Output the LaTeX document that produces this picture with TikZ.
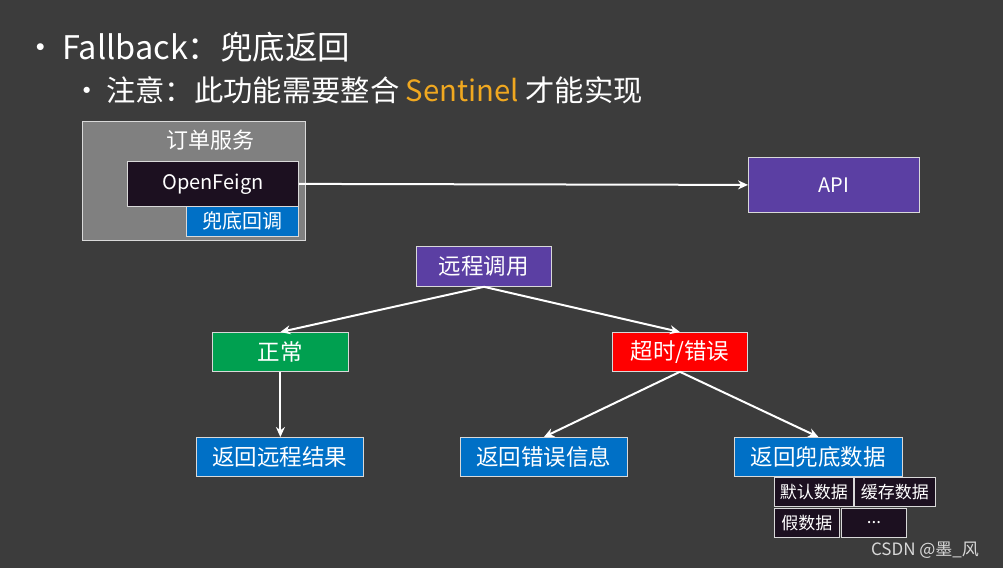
\documentclass[tikz,border=0pt]{standalone}
\usepackage{fontspec}
\setmainfont{Noto Sans CJK SC}
\usetikzlibrary{arrows.meta}
\definecolor{bg}{HTML}{3C3C3C}
\definecolor{pur}{HTML}{5B3FA3}
\definecolor{blu}{HTML}{0070C6}
\definecolor{grn}{HTML}{00A050}
\definecolor{dk}{HTML}{1C1020}
\definecolor{org}{HTML}{F0A820}
\tikzset{
  bx/.style={draw=white!85!black, line width=0.8pt, text=white, font=\fontsize{22.5}{26}\selectfont, inner sep=0pt},
  sm/.style={bx, fill=dk, font=\fontsize{17}{20}\selectfont},
  arr/.style={draw=white, line width=2pt, -{Stealth[length=10pt,width=9pt]}},
}
\begin{document}
\begin{tikzpicture}[x=1pt,y=-1pt]
\fill[bg] (0,0) rectangle (1003,568);
\useasboundingbox (0,0) rectangle (1003,568);
\node[text=white, anchor=west, font=\fontsize{32.5}{38}\selectfont, inner sep=0pt] (t1) at (24,47) {•\,Fallback：兜底返回};
\node[text=white, anchor=west, font=\fontsize{29.3}{34}\selectfont, inner sep=0pt] (t2) at (72,90) {•\,注意：此功能需要整合 \textcolor{org}{Sentinel} 才能实现};
% order service
\node[bx, fill=gray, minimum width=223, minimum height=119, anchor=north west] (svc) at (82,121) {};
\node[text=white, font=\fontsize{22}{26}\selectfont] (svct) at (210,140) {订单服务};
\node[bx, fill=dk, minimum width=171, minimum height=45, anchor=north west, font=\fontsize{20}{24}\selectfont] (of) at (127,161) {OpenFeign};
\node[bx, fill=blu, minimum width=112, minimum height=30, anchor=north west, font=\fontsize{20}{24}\selectfont] (fb) at (186,206) {兜底回调};
\node[bx, fill=pur, minimum width=171, minimum height=55, anchor=north west, font=\fontsize{20}{24}\selectfont] (api) at (748,157) {API};
\node[bx, fill=pur, minimum width=135, minimum height=40, anchor=north west] (rc) at (416,246) {远程调用};
\node[bx, fill=grn, minimum width=136, minimum height=39, anchor=north west] (ok) at (212,332) {正常};
\node[bx, fill=red, minimum width=135, minimum height=39, anchor=north west] (to) at (612,332) {超时/错误};
\node[bx, fill=blu, minimum width=167, minimum height=39, anchor=north west] (r1) at (196,437) {返回远程结果};
\node[bx, fill=blu, minimum width=167, minimum height=39, anchor=north west] (r2) at (460,437) {返回错误信息};
\node[bx, fill=blu, minimum width=168, minimum height=39, anchor=north west] (r3) at (734,437) {返回兜底数据};
\node[sm, minimum width=79, minimum height=29, anchor=north west] (d1) at (774,477) {默认数据};
\node[sm, minimum width=81, minimum height=29, anchor=north west] (d2) at (854,477) {缓存数据};
\node[sm, minimum width=65, minimum height=29, anchor=north west] (d3) at (774,508) {假数据};
\node[sm, minimum width=65, minimum height=29, anchor=north west] (d4) at (841,508) {...};
\node[text=white!85!black, font=\fontsize{17}{20}\selectfont] (wm) at (925,550) {CSDN @墨\_风};
% arrows
\draw[arr] (of.east) -- (api.west);
\draw[arr] (rc.south) -- (ok.north);
\draw[arr] (rc.south) -- (to.north);
\draw[arr] (ok.south) -- (r1.north -| ok.south);
\draw[arr] (to.south) -- (r2.north);
\draw[arr] (to.south) -- (r3.north);
\end{tikzpicture}
\end{document}
